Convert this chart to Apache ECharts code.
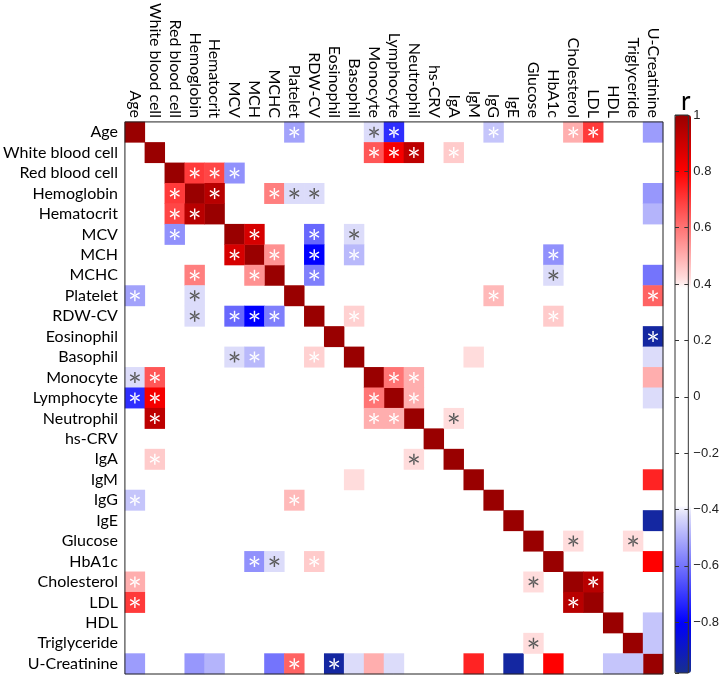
<!DOCTYPE html>
<html><head><meta charset="utf-8">
<script src="https://cdn.jsdelivr.net/npm/echarts@6/dist/echarts.min.js"></script>
<style>html,body{margin:0;padding:0;background:#fff}#c{width:722px;height:676px}</style>
</head><body><div id="c"></div>
<script>
// ---- data ----
const variables = ['Age','White blood cell','Red blood cell','Hemoglobin','Hematocrit','MCV','MCH','MCHC','Platelet','RDW-CV','Eosinophil','Basophil','Monocyte','Lymphocyte','Neutrophil','hs-CRV','IgA','IgM','IgG','IgE','Glucose','HbA1c','Cholesterol','LDL','HDL','Triglyceride','U-Creatinine'];
// upper-triangle correlations: [row, col, r, marker]  marker: 0 none, 1 white asterisk, 2 gray asterisk
const correlations = [
  [0,8,-0.52,1],[0,12,-0.42,2],[0,13,-0.72,1],[0,18,-0.46,1],[0,22,0.50,1],[0,23,0.70,1],[0,26,-0.53,0],
  [1,12,0.65,1],[1,13,0.82,1],[1,14,0.93,1],[1,16,0.45,1],
  [2,3,0.70,1],[2,4,0.68,1],[2,5,-0.55,1],
  [3,4,0.94,1],[3,7,0.58,1],[3,8,-0.42,2],[3,9,-0.42,2],[3,26,-0.54,0],
  [4,26,-0.49,0],
  [5,6,0.88,1],[5,9,-0.62,1],[5,11,-0.42,2],
  [6,7,0.55,1],[6,9,-0.80,1],[6,11,-0.48,1],[6,21,-0.55,1],
  [7,9,-0.58,1],[7,21,-0.42,2],[7,26,-0.60,0],
  [8,18,0.48,1],[8,26,0.63,1],
  [9,11,0.44,1],[9,21,0.45,1],
  [10,26,-0.95,1],
  [11,17,0.42,0],[11,26,-0.42,0],
  [12,13,0.60,1],[12,14,0.50,1],[12,26,0.50,0],
  [13,14,0.50,1],[13,26,-0.42,0],
  [14,16,0.42,2],
  [17,26,0.74,0],
  [19,26,-0.95,0],
  [20,22,0.42,2],[20,25,0.42,2],
  [21,26,0.80,0],
  [22,23,0.94,1],
  [24,26,-0.46,0],
  [25,26,-0.46,0]
];
const colorbarMin = -0.98, colorbarMax = 1;

// ---- build series data ----
const cells = [], whiteStars = [], grayStars = [];
variables.forEach((v, i) => cells.push([i, i, 1]));
correlations.forEach(([r, c, val, m]) => {
  cells.push([c, r, val]); cells.push([r, c, val]);
  if (m === 1) { whiteStars.push([c, r]); whiteStars.push([r, c]); }
  if (m === 2) { grayStars.push([c, r]); grayStars.push([r, c]); }
});

// ---- colormap (style) ----
const cmapStops = [[-0.98,[24,47,142]],[-0.8,[0,0,255]],[-0.41,[226,226,250]],[-0.39,[255,255,255]],[0.39,[255,255,255]],[0.41,[255,226,226]],[0.8,[255,0,0]],[1,[153,0,0]]];
function cmap(v){
  for (let k=0;k<cmapStops.length-1;k++){
    const [a,ca]=cmapStops[k],[b,cb]=cmapStops[k+1];
    if (v<=b){ const t=(v-a)/(b-a); const c=ca.map((x,j)=>Math.round(x+(cb[j]-x)*t)); return 'rgb('+c.join(',')+')'; }
  }
  return 'rgb(153,0,0)';
}
const NC = 199, palette = [];
for (let k=0;k<NC;k++) palette.push(cmap(colorbarMin+(colorbarMax-colorbarMin)*k/(NC-1)));

const starPath = 'path://M-0.13,-1L0.13,-1L0.13,1L-0.13,1Z M0.801,0.613L0.931,0.387L-0.801,-0.613L-0.931,-0.387Z M-0.931,0.387L-0.801,0.613L0.931,-0.387L0.801,-0.613Z';
const lab = {fontFamily:'Lato', fontSize:16, color:'#000'};
const cbAxis = (pos, showLabel) => ({
  type:'value', gridIndex:1, min:colorbarMin, max:colorbarMax, splitNumber:10, position:pos, z:10,
  axisLine:{show:false}, splitLine:{show:false},
  axisTick:{show:true, inside:true, length:4, lineStyle:{color:'#333'}},
  axisLabel:{show:showLabel, showMinLabel:false, margin:5, fontFamily:'Liberation Sans', fontSize:13, color:'#222',
    formatter: v => String(Math.round(v*10)/10).replace('-', '\u2212')}
});

const chart = echarts.init(document.getElementById('c'), null, {renderer:'canvas'});
chart.setOption({
  animation:false,
  backgroundColor:'#fff',
  title:{text:'r', left:676, top:84, textStyle:{fontFamily:'Lato', fontSize:26, fontWeight:'normal', color:'#000'}},
  grid:[
    {left:119, top:115, width:544, height:559, show:true, borderColor:'#222', borderWidth:1, z:10},
    {left:675, top:115, width:16, height:558, show:true, borderColor:'#333', borderWidth:1, z:10}
  ],
  xAxis:[
    {type:'category', data:variables, position:'top', gridIndex:0, axisLine:{show:false}, axisTick:{show:false}, splitLine:{show:false},
     axisLabel:Object.assign({rotate:90, interval:0, margin:4}, lab)},
    {type:'category', data:[''], gridIndex:1, show:false}
  ],
  yAxis:[
    {type:'category', data:variables, inverse:true, gridIndex:0, axisLine:{show:false}, axisTick:{show:false}, splitLine:{show:false},
     axisLabel:Object.assign({interval:0, margin:7}, lab)},
    cbAxis('right', true),
    cbAxis('left', false)
  ],
  visualMap:{type:'continuous', seriesIndex:0, min:colorbarMin, max:colorbarMax, calculable:false, hoverLink:false,
    orient:'vertical', left:675, top:115, itemWidth:16, itemHeight:558, padding:0, inRange:{color:palette}},
  series:[
    {type:'heatmap', xAxisIndex:0, yAxisIndex:0, data:cells, silent:true, itemStyle:{borderWidth:0}, emphasis:{disabled:true}},
    {type:'scatter', xAxisIndex:0, yAxisIndex:0, data:whiteStars, symbol:starPath, symbolSize:11, symbolKeepAspect:true, silent:true, itemStyle:{color:'#ffffff', opacity:1}, z:5},
    {type:'scatter', xAxisIndex:0, yAxisIndex:0, data:grayStars, symbol:starPath, symbolSize:11, symbolKeepAspect:true, silent:true, itemStyle:{color:'#5a5a5a', opacity:1}, z:5}
  ]
});
</script></body></html>
